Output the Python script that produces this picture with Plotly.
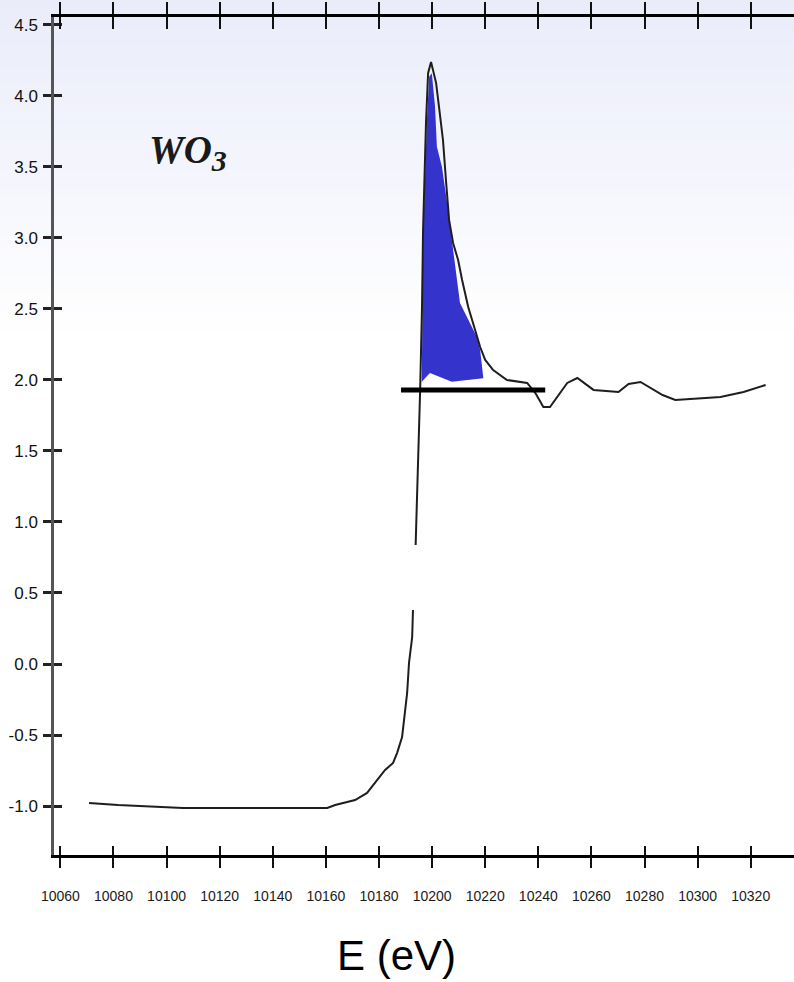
import plotly.graph_objects as go

# W L3-edge XANES spectrum of WO3
energy = [10070.8, 10081.7, 10106.2, 10160.5, 10163.5, 10166.5, 10171.0, 10175.5,
          10179.3, 10182.3, 10185.3, 10186.8, 10188.7, 10189.1, 10190.6, 10191.3,
          10192.5, 10192.8, None, 10193.8, 10194.7, 10195.5, 10196.2, 10196.6,
          10197.7, 10198.5, 10199.6, 10200.4, 10201.5, 10202.6, 10204.1, 10205.3,
          10206.4, 10207.9, 10209.8, 10211.3, 10213.6, 10216.2, 10218.1, 10220.0,
          10223.0, 10228.2, 10235.8, 10238.9, 10241.9, 10244.4, 10247.2, 10250.9,
          10254.7, 10260.8, 10270.2, 10274.0, 10278.5, 10282.3, 10286.8, 10291.6,
          10308.6, 10317.3, 10325.6]
absorbance = [-0.979, -0.993, -1.014, -1.014, -0.993, -0.979, -0.958, -0.908,
              -0.817, -0.746, -0.697, -0.627, -0.514, -0.444, -0.204, 0.007,
              0.190, 0.380, None, 0.838, 1.366, 1.930, 2.514, 3.056,
              3.810, 4.162, 4.239, 4.183, 4.092, 3.923, 3.690, 3.387,
              3.127, 2.965, 2.845, 2.704, 2.514, 2.352, 2.232, 2.141,
              2.070, 2.000, 1.979, 1.908, 1.810, 1.810, 1.880, 1.979,
              2.014, 1.930, 1.915, 1.972, 1.986, 1.944, 1.894, 1.859,
              1.880, 1.915, 1.965]

# White-line area (shaded)
area_e = [10196.1, 10196.7, 10198.0, 10198.9, 10199.9, 10201.1, 10201.8, 10203.7,
          10205.5, 10207.4, 10209.0, 10210.5, 10213.7, 10216.8, 10218.1, 10219.3,
          10207.4, 10203.0, 10199.2, 10196.1]
area_mu = [1.988, 3.056, 3.810, 4.136, 4.160, 3.925, 3.643, 3.502,
           3.268, 2.986, 2.754, 2.542, 2.423, 2.305, 2.211, 2.012,
           1.988, 2.023, 2.049, 1.988]

# Post-edge baseline
base_e = [10188.3, 10242.6]
base_mu = [1.93, 1.93]

x_ticks = list(range(10060, 10321, 20))
x_labels = [str(v) for v in x_ticks]
y_ticks = [4.5, 4.0, 3.5, 3.0, 2.5, 2.0, 1.5, 1.0, 0.5, 0.0, -0.5, -1.0]
y_labels = ["4.5", "4.0", "3.5", "3.0", "2.5", "2.0", "1.5", "1.0", "0.5", "0.0", "-0.5", "-1.0"]

X_RANGE = [10057.6, 10336.3]
Y_RANGE = [-1.345, 4.556]

W, H = 794, 982
ML, MR, MT, MB = 54, 0, 17, 127
PW, PH = W - ML - MR, H - MT - MB

fig = go.Figure()

fig.add_trace(go.Scatter(x=area_e, y=area_mu, mode="lines", fill="toself",
                         fillcolor="#3434cc", line=dict(width=0, color="#3434cc"),
                         hoverinfo="skip", showlegend=False))
fig.add_trace(go.Scatter(x=energy, y=absorbance, mode="lines",
                         line=dict(color="#1e1e1e", width=2),
                         connectgaps=False, showlegend=False))
fig.add_trace(go.Scatter(x=base_e, y=base_mu, mode="lines",
                         line=dict(color="#000000", width=5), showlegend=False))

# empty traces so the overlay tick axes are drawn
for xa, ya in [("x2", "y"), ("x3", "y"), ("x4", "y"), ("x", "y2")]:
    fig.add_trace(go.Scatter(x=[None], y=[None], xaxis=xa, yaxis=ya,
                             showlegend=False, hoverinfo="skip"))

x_font = dict(family="Liberation Sans, Arial, sans-serif", size=14, color="#1a1a1a")
y_font = dict(family="Liberation Sans, Arial, sans-serif", size=17, color="#111111")

common_x = dict(range=X_RANGE, tickvals=x_ticks, showgrid=False, zeroline=False)
common_y = dict(range=Y_RANGE, tickvals=y_ticks, showgrid=False, zeroline=False)

# soft lavender wash at the top of the page
shapes = []
top_c = (234, 236, 250)
n_bands = 36
band_px = 340 / n_bands
for i in range(n_bands):
    t = i / (n_bands - 1)
    c = tuple(int(round(top_c[k] + (255 - top_c[k]) * t)) for k in range(3))
    y0_px = i * band_px
    y1_px = (i + 1) * band_px + 0.5
    shapes.append(dict(type="rect", xref="paper", yref="paper", layer="below",
                       x0=-ML / PW, x1=1.0,
                       y0=1 - (y1_px - MT) / PH, y1=1 - (y0_px - MT) / PH,
                       fillcolor="rgb(%d,%d,%d)" % c, line=dict(width=0)))

fig.update_layout(
    width=W, height=H,
    margin=dict(l=ML, r=MR, t=MT, b=MB),
    paper_bgcolor="white",
    plot_bgcolor="rgba(0,0,0,0)",
    showlegend=False,
    shapes=shapes,
    xaxis=dict(**common_x, ticktext=x_labels, ticks="outside", ticklen=10, tickwidth=2,
               tickcolor="#111111", showline=True, linecolor="#000000", linewidth=3,
               tickfont=x_font, ticklabelstandoff=16),
    xaxis2=dict(**common_x, overlaying="x", side="bottom", anchor="y", ticks="inside",
                ticklen=9, tickwidth=2, tickcolor="#111111", showticklabels=False,
                showline=False),
    xaxis3=dict(**common_x, overlaying="x", side="top", anchor="y", ticks="outside",
                ticklen=12, tickwidth=2, tickcolor="#111111", showticklabels=False,
                showline=True, linecolor="#000000", linewidth=2.5),
    xaxis4=dict(**common_x, overlaying="x", side="top", anchor="y", ticks="inside",
                ticklen=12, tickwidth=2, tickcolor="#111111", showticklabels=False,
                showline=False),
    yaxis=dict(**common_y, ticktext=y_labels, ticks="outside", ticklen=8, tickwidth=2.5,
               tickcolor="#222222", showline=True, linecolor="#555555", linewidth=2.5,
               tickfont=y_font, ticklabelstandoff=2),
    yaxis2=dict(**common_y, overlaying="y", side="left", anchor="x", ticks="inside",
                ticklen=8, tickwidth=2.5, tickcolor="#222222", showticklabels=False,
                showline=False),
    annotations=[
        dict(text="<b><i>WO<sub><span style=\"font-size:30px\">3</span></sub></i></b>",
             x=10108.0, y=3.60, xref="x", yref="y",
             showarrow=False, font=dict(family="Liberation Serif, Times New Roman, serif",
                                         size=39, color="#1a1a1a")),
        dict(text="E (eV)", xref="paper", yref="paper", x=(396 - ML) / PW,
             y=(H - MB - 955) / PH, xanchor="center", yanchor="middle", showarrow=False,
             font=dict(family="Liberation Sans, Arial, sans-serif", size=42, color="#000000")),
    ],
)

fig.write_html("out.html")
